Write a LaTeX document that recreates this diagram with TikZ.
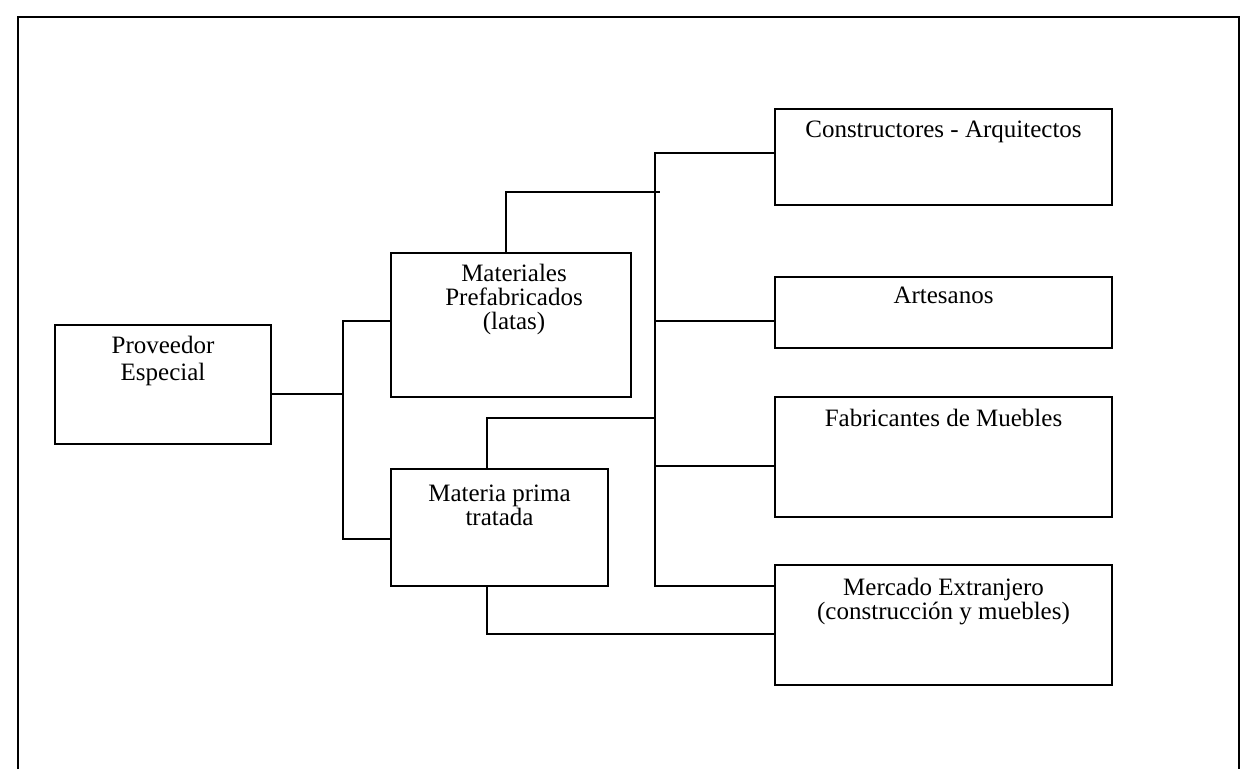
\documentclass[tikz,border=0pt]{standalone}
\usepackage{fontspec}
\setmainfont{Liberation Serif}
\begin{document}
\begin{tikzpicture}[x=1pt,y=-1pt,
  box/.style={draw, line width=1.7pt, inner sep=0pt, outer sep=0pt, anchor=north west},
  txt/.style={align=center, inner sep=0pt, anchor=north},
  wide/.style={font=\fontsize{25}{27}\selectfont},
  tight/.style={font=\fontsize{25}{24}\selectfont},
  link/.style={line width=1.8pt},
  frame/.style={line width=2.2pt}]
\useasboundingbox (0,0) rectangle (1258,769);
% outer frame, open at the bottom
\draw[frame] (18,769) -- (18,17) -- (1239,17) -- (1239,769);

% boxes
\node[box, minimum width=216pt, minimum height=119pt] (prov) at (55,325) {};
\node[box, minimum width=240pt, minimum height=144pt] (mat)  at (391,253) {};
\node[box, minimum width=217pt, minimum height=117pt] (mp)   at (391,469) {};
\node[box, minimum width=337pt, minimum height=96pt]  (con)  at (775,109) {};
\node[box, minimum width=337pt, minimum height=71pt]  (art)  at (775,277) {};
\node[box, minimum width=337pt, minimum height=120pt] (fab)  at (775,397) {};
\node[box, minimum width=337pt, minimum height=120pt] (mer)  at (775,565) {};

% box captions
\node[txt, wide]  (provT) at ([yshift=-8pt]prov.north) {\rule{0pt}{20pt}Proveedor\\Especial};
\node[txt, tight] (matT)  at ([yshift=-8pt,xshift=3pt]mat.north) {\rule{0pt}{20pt}Materiales\\Prefabricados\\(latas)};
\node[txt, tight] (mpT)   at ([yshift=-12pt]mp.north) {\rule{0pt}{20pt}Materia prima\\tratada};
\node[txt, wide]  (conT)  at ([yshift=-8pt]con.north) {\rule{0pt}{20pt}Constructores - Arquitectos};
\node[txt, wide]  (artT)  at ([yshift=-6pt]art.north) {\rule{0pt}{20pt}Artesanos};
\node[txt, wide]  (fabT)  at ([yshift=-9pt]fab.north) {\rule{0pt}{20pt}Fabricantes de Muebles};
\node[txt, tight] (merT)  at ([yshift=-10pt]mer.north) {\rule{0pt}{20pt}Mercado Extranjero\\(construcción y muebles)};

% junction points
\coordinate (fork)   at (343,394);
\coordinate (busBot) at (655,586);

% supplier to its two product lines
\draw[link] ([yshift=-9.5pt]prov.east) -- (fork);
\draw[link] ([yshift=4pt]mat.west) -| (fork) |- ([yshift=-11.5pt]mp.west);

% distribution bus to the customer groups
\draw[link] ([yshift=4pt]con.west) -| (busBot) -- ([yshift=39pt]mer.west);
\draw[link] ([yshift=-8.5pt]art.west) -- ++(-120,0);
\draw[link] ([yshift=-9pt]fab.west) -- ++(-120,0);

% product lines feeding the bus
\draw[link] ([xshift=-5pt]mat.north) |- ++(154,-61);
\draw[link] ([xshift=-12.5pt]mp.north) |- ++(168,-51);
\draw[link] ([xshift=-12.5pt]mp.south) |- ([yshift=-9pt]mer.west);
\end{tikzpicture}
\end{document}
